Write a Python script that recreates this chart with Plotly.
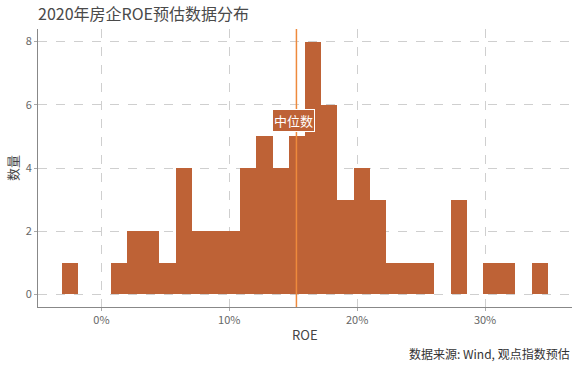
import plotly.graph_objects as go

# Histogram of 2020 ROE estimates (percent), 30 equal bins
bin_start = -3.06
bin_end = 34.9
counts = [1, 0, 0, 1, 2, 2, 1, 4, 2, 2, 2, 4, 5, 4, 5, 8, 6, 3, 4, 3, 1, 1, 1, 0, 3, 0, 1, 1, 0, 1]
median_roe = 15.25
x_ticks = [0, 10, 20, 30]
x_tick_labels = ["0%", "10%", "20%", "30%"]
y_ticks = [0, 2, 4, 6, 8]

n_bins = len(counts)
bw = (bin_end - bin_start) / n_bins
centers = [bin_start + bw * (i + 0.5) for i in range(n_bins)]

FONT = "Noto Sans CJK SC"
BAR = "#BE6236"

fig = go.Figure()
fig.add_trace(go.Bar(
    x=centers, y=counts, width=[bw] * n_bins,
    marker=dict(color=BAR, line=dict(color=BAR, width=0)),
    hoverinfo="skip",
))
fig.add_shape(type="line", xref="x", yref="paper", x0=median_roe, x1=median_roe,
              y0=0, y1=1, line=dict(color="#EE8A3C", width=1.5), layer="above")
fig.add_annotation(x=15.0, y=5.5, xref="x", yref="y", text="中位数", showarrow=False,
                   font=dict(family=FONT, size=13, color="white"),
                   bgcolor=BAR, bordercolor="white", borderwidth=1, borderpad=1)

fig.update_layout(
    width=580, height=367,
    margin=dict(l=38, r=8, t=29, b=60),
    paper_bgcolor="white", plot_bgcolor="white",
    bargap=0, showlegend=False,
    font=dict(family=FONT, color="#555"),
    title=dict(text="2020年房企ROE预估数据分布", x=38 / 580, xanchor="left", y=1 - 14 / 367, yanchor="middle",
               font=dict(family=FONT, size=16, color="#4a4a4a")),
)
fig.update_xaxes(
    range=[bin_start - 0.05 * (bin_end - bin_start), bin_end + 0.05 * (bin_end - bin_start)],
    tickvals=x_ticks, ticktext=x_tick_labels,
    showgrid=True, gridcolor="#cfcfcf", griddash="dash", gridwidth=1,
    zeroline=False, showline=True, linecolor="#888", linewidth=1,
    ticks="outside", ticklen=3, tickcolor="#aaa",
    tickfont=dict(family=FONT, size=11, color="#666"),
    automargin=False,
)
fig.update_yaxes(
    range=[-0.4, 8.4], tickvals=y_ticks,
    showgrid=True, gridcolor="#cfcfcf", griddash="dash", gridwidth=1,
    zeroline=False, showline=True, linecolor="#888", linewidth=1,
    ticks="outside", ticklen=3, tickcolor="#aaa",
    tickfont=dict(family=FONT, size=11, color="#666"),
    automargin=False,
)
fig.add_annotation(x=0.5, y=-0.1007, xref="paper", yref="paper", xanchor="center", yanchor="middle",
                   text="ROE", showarrow=False,
                   font=dict(family=FONT, size=13, color="#444"))
fig.add_annotation(x=-0.0487, y=0.5, xref="paper", yref="paper", xanchor="center", yanchor="middle",
                   text="数量", showarrow=False, textangle=-90,
                   font=dict(family=FONT, size=13, color="#444"))
fig.add_annotation(x=1, y=-0.169, xref="paper", yref="paper", xanchor="right", yanchor="middle",
                   text="数据来源: Wind, 观点指数预估", showarrow=False,
                   font=dict(family=FONT, size=12, color="#333"))

fig.write_html("out.html", config={"displayModeBar": False},
               post_script="document.body.style.margin='0';document.body.style.overflow='hidden';")
